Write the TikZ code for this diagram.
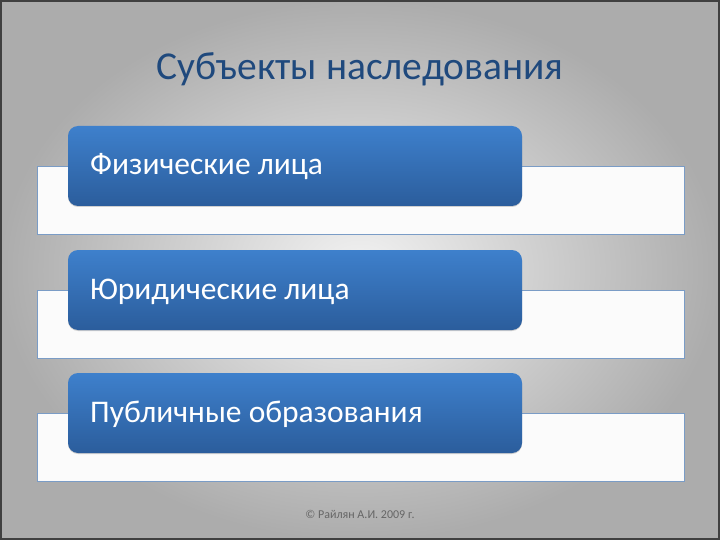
\documentclass[tikz,border=0pt]{standalone}
\usepackage{fontspec}
\setmainfont{Carlito}
\usetikzlibrary{shadows}
\definecolor{titleblue}{HTML}{1F497D}
\definecolor{btop}{HTML}{3E80CC}
\definecolor{bbot}{HTML}{2B5D9C}
\definecolor{rimline}{HTML}{7A9CC6}
\tikzset{
  whitebar/.style={draw=rimline, line width=0.8pt, fill=white!97!gray},
  bluebox/.style={rounded corners=10pt, top color=btop, bottom color=bbot, draw=none,
    drop shadow={shadow xshift=0pt, shadow yshift=-1pt, opacity=0.35}},
  boxtext/.style={anchor=base west, text=white, font=\fontsize{31.5}{36}\selectfont, inner sep=0pt}
}
\begin{document}
\begin{tikzpicture}[x=1pt,y=-1pt]
\useasboundingbox (0,0) rectangle (720,540);
\shade[inner color=white!90!gray, outer color=gray!65!white] (0,0) rectangle (720,540);
\draw[line width=2pt, draw=black!75] (1,1) rectangle (719,539);
\node[text=titleblue, font=\fontsize{39.5}{44}\selectfont, anchor=base, inner sep=0pt] (title) at (360,80) {Субъекты наследования};
% rows
\foreach \i/\ytop/\t in {1/126/Физические лица, 2/250/Юридические лица, 3/373/Публичные образования}{
  \draw[whitebar] (37,\ytop+40) rectangle (684,\ytop+108);
  \path[bluebox] (68,\ytop) rectangle (522,\ytop+80);
  \node[boxtext] (t\i) at (90,\ytop+49) {\t};
}
\node[text=gray!80!black, font=\fontsize{12}{14}\selectfont, anchor=base, inner sep=0pt] (foot) at (360,518) {© Райлян А.И. 2009 г.};
\end{tikzpicture}
\end{document}
